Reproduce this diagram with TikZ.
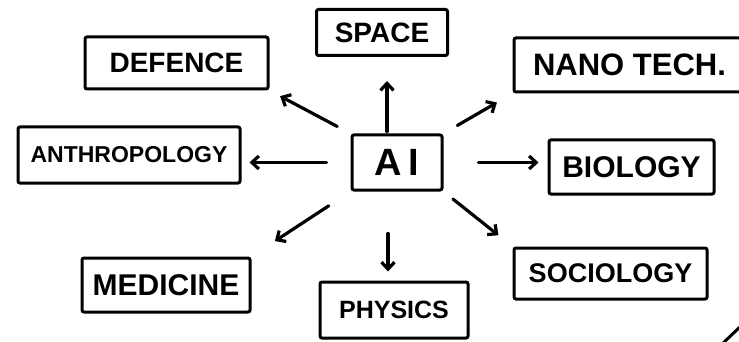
\documentclass[tikz,border=0pt]{standalone}
\usepackage{fontspec}
\setmainfont{Liberation Sans}
\usetikzlibrary{arrows.meta}
\tikzset{
  topic/.style={draw, line width=3pt, rounded corners=2pt, inner sep=0pt, font=\bfseries\fontsize{28}{30}\selectfont},
  fsize/.style={font=\bfseries\fontsize{#1}{#1}\selectfont},
  arr/.style={line width=3.2pt, line cap=round, -{Straight Barb[length=7pt,width=13pt]}}
}
\begin{document}
\begin{tikzpicture}[x=1pt,y=-1pt]
\useasboundingbox (0,0) rectangle (739,342);
% centre
\node[topic, minimum width=90pt, minimum height=55pt, fsize=38] (ai) at (397,162.5) {A\hspace{7pt}I};
% fields round it
\node[topic, minimum width=131pt, minimum height=46pt] (space) at (382,32.5) {SPACE};
\node[topic, minimum width=183pt, minimum height=52pt] (defence) at (176.5,63) {DEFENCE};
\node[topic, minimum width=231pt, minimum height=54pt, fsize=31] (nano) at (629.5,65) {NANO TECH.};
\node[topic, minimum width=222pt, minimum height=56pt, fsize=23] (anthro) at (129,155) {ANTHROPOLOGY};
\node[topic, minimum width=165pt, minimum height=54pt, fsize=30] (bio) at (631.5,167) {BIOLOGY};
\node[topic, minimum width=168pt, minimum height=54pt, fsize=30] (med) at (166,285) {MEDICINE};
\node[topic, minimum width=148pt, minimum height=56pt, fsize=25] (phys) at (394,310) {PHYSICS};
\node[topic, minimum width=193pt, minimum height=51pt, fsize=27] (soc) at (610.5,273.5) {SOCIOLOGY};
% arrows out of AI
\draw[arr, shorten <=2pt, shorten >=24pt] ([xshift=-10pt]ai.north) -- ([xshift=5pt]space.south);
\draw[arr, shorten <=15pt, shorten >=12pt] (ai.north west) -- (defence.south east);
\draw[arr, shorten <=16pt, shorten >=18pt] (ai.north east) -- (nano.south west);
\draw[arr, shorten <=24pt, shorten >=8pt] (ai.west) -- (anthro.east |- ai.west);
\draw[arr, shorten <=35pt, shorten >=9pt] (ai.east) -- (bio.west |- ai.east);
\draw[arr, shorten <=26pt, shorten >=28pt] (ai.south west) -- (med.north east);
\draw[arr, shorten <=42pt, shorten >=9pt] ([xshift=-9pt]ai.south) -- ([xshift=-6pt]phys.north);
\draw[arr, shorten <=12pt, shorten >=18pt] (ai.south east) -- (soc.north west);
% stroke at the corner
\draw[line width=3pt] (720,346) -- (742,325);
\end{tikzpicture}
\end{document}
